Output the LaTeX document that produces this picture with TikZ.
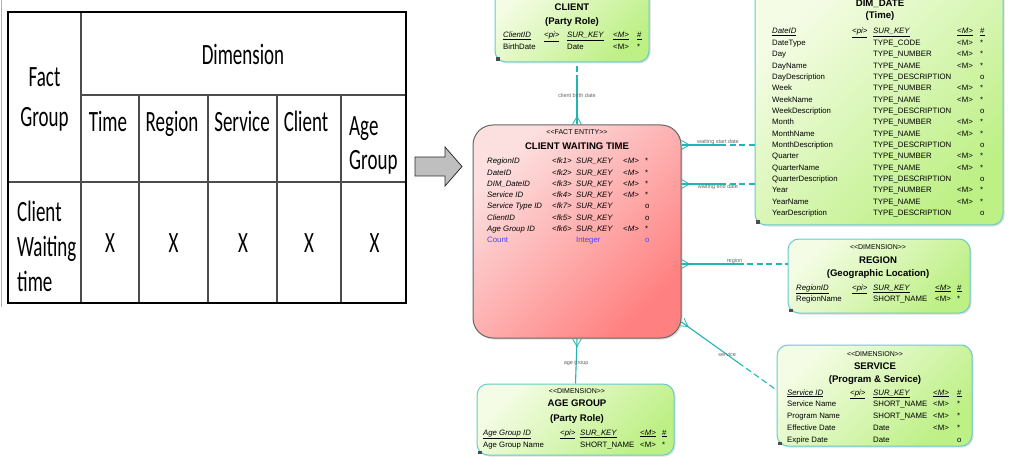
\documentclass[tikz,border=0pt]{standalone}
\usepackage{fontspec}
\usepackage{graphicx}
\setmainfont{Carlito}
\newfontfamily\erdfont{Liberation Sans}
\usetikzlibrary{calc,shadows}
\definecolor{linkc}{rgb}{0.13, 0.71, 0.71}
\definecolor{dimline}{rgb}{0.40, 0.80, 0.80}
\definecolor{dimtop}{rgb}{0.96, 0.99, 0.90}
\definecolor{dimbot}{rgb}{0.74, 0.94, 0.52}
\definecolor{facttop}{rgb}{0.99, 0.88, 0.88}
\definecolor{factbot}{rgb}{1.00, 0.50, 0.50}
\definecolor{cntblue}{rgb}{0.30, 0.25, 1.00}
\newcommand{\tallt}[1]{\scalebox{1}[1.55]{#1}}
\newcommand{\stereo}[2]{<\kern0pt<#1>\kern0pt>}
\newcommand{\erlink}[3]{% from, to, solid part
    \draw[link] (#1) -- ($(#1)!#3!(#2)$);
    \draw[linkdash] ($(#1)!#3!(#2)$) -- (#2);}
\tikzset{
    crow/.pic={\draw[link, line width=0.8pt] (0,-4.5) -- (8,0) -- (0,4.5);}
}

\begin{document}
\begin{tikzpicture}[x=1pt, y=-1pt,
    tabout/.style={draw=black, line width=2.6pt},
    tabin/.style={draw=black!70, line width=1.2pt},
    tabtxt/.style={font=\fontsize{19}{40}\selectfont, inner sep=0pt},
    entity/.style={draw=dimline, line width=1pt, rounded corners=11pt,
        top color=dimtop, bottom color=dimbot, shading angle=45,
        drop shadow={opacity=0.25, shadow xshift=1.5pt, shadow yshift=-1.5pt}},
    factbox/.style={entity, draw=black!60, rounded corners=20pt,
        top color=facttop, bottom color=factbot, shading angle=45},
    ttl/.style={font=\erdfont\bfseries\fontsize{9.6}{11}\selectfont, inner sep=0pt},
    stype/.style={font=\erdfont\fontsize{7}{8}\selectfont, inner sep=0pt},
    attr/.style={font=\erdfont\fontsize{7.8}{9}\selectfont, inner sep=0pt,
        anchor=west, text height=5.6pt, text depth=1.6pt},
    lnk/.style={font=\erdfont\fontsize{5.5}{6}\selectfont, text=black!60, inner sep=0.5pt},
    link/.style={draw=linkc, line width=1.1pt},
    linkdash/.style={link, dash pattern=on 6pt off 3.5pt}]
    \useasboundingbox (0,0) rectangle (1009,457);
    \clip (0,0) rectangle (1009,457);
    \fill[white] (0,0) rectangle (1009,457);

    % fact / dimension table
    \draw[gray!60, line width=0.8pt] (1.5,0) -- (1.5,307);
    \draw[tabin] (81,12) -- (81,303);
    \draw[tabin] (81,95) -- (406,95);
    \draw[tabin] (8,182) -- (406,182);
    \foreach \cx in {139,208,277,341}
        \draw[tabin] (\cx,95) -- (\cx,303);
    \draw[tabout] (8,12) rectangle (406,303);

    \node[tabtxt, align=center] (fg) at (44.5,99) {\tallt{Fact}\\\tallt{Group}};
    \node[tabtxt, anchor=base] (dimh) at (243,64.5) {\tallt{Dimension}};
    \foreach \hx/\hn [count=\k] in {108/Time,172/Region,242/Service,306/Client}
        \node[tabtxt, anchor=base] (hd\k) at (\hx,131.5) {\tallt{\hn}};
    \node[tabtxt, align=left, anchor=west, font=\fontsize{19}{34}\selectfont] (hd5) at (349,145) {\tallt{Age}\\\tallt{Group}};
    \node[tabtxt, align=left, anchor=west, font=\fontsize{19}{35}\selectfont] (cwt) at (17,246) {\tallt{Client}\\\tallt{Waiting}\\\tallt{time}};
    \foreach \xx [count=\k] in {110,173.5,243,309,374.5}
        \node[tabtxt, anchor=base] (x\k) at (\xx,252.5) {\tallt{X}};

    % block arrow
    \draw[fill=gray!50, draw=gray!35!black, line width=0.8pt]
        (415,157) -- (445,157) -- (445,147) -- (462,166.5) -- (445,186) -- (445,176) -- (415,176) -- cycle;

    % entities
    \node[entity, minimum width=154pt, minimum height=82pt] (client) at (572,21) {};
    \node[entity, minimum width=248pt, minimum height=239pt] (dimdate) at (879,105.5) {};
    \node[factbox, minimum width=208pt, minimum height=213pt] (fact) at (577,231.5) {};
    \node[entity, minimum width=182pt, minimum height=74pt] (region) at (879,276) {};
    \node[entity, minimum width=195pt, minimum height=101pt] (service) at (874.5,395.5) {};
    \node[entity, minimum width=197pt, minimum height=71pt] (agegroup) at (575.5,419.5) {};
    \foreach \e in {client,dimdate,region,service,agegroup}
        \fill[black!70] ([xshift=1.5pt, yshift=1.5pt]\e.south west) rectangle ++(3.5,-3.5);

    % CLIENT
    \node[ttl] (clt) at (572,7) {CLIENT};
    \node[ttl] (cls) at (572,22) {(Party Role)};
    \node[attr] (cl1) at (503,36) {\underline{\textit{ClientID}}};
    \node[attr] (cl2) at (544,36) {\underline{\textit{<pi>}}};
    \node[attr] (cl3) at (567,36) {\underline{\textit{SUR\_KEY}}};
    \node[attr] (cl4) at (613,36) {\underline{\textit{<M>}}};
    \node[attr] (cl5) at (637,36) {\underline{\#}};
    \node[attr] (cl6) at (503,48) {BirthDate};
    \node[attr] (cl7) at (567,48) {Date};
    \node[attr] (cl8) at (613,48) {<M>};
    \node[attr] (cl9) at (637,48) {*};

    % DIM_DATE
    \node[ttl] (ddt) at (880,3.5) {DIM\_DATE};
    \node[ttl] (dds) at (880,16) {(Time)};
    \node[attr] (ddn0) at (772,32) {\underline{\textit{DateID}}};
    \node[attr] (ddk0) at (852,32) {\underline{\textit{<pi>}}};
    \node[attr] (ddt0) at (873,32) {\underline{\textit{SUR\_KEY}}};
    \node[attr] (ddm0) at (957,32) {\underline{\textit{<M>}}};
    \node[attr] (ddo0) at (980,32) {\underline{\#}};
    \foreach \an/\at/\am/\ao [count=\k] in {
        DateType/TYPE\_CODE/{<M>}/*, Day/TYPE\_NUMBER/{<M>}/*,
        DayName/TYPE\_NAME/{<M>}/*, DayDescription/TYPE\_DESCRIPTION//o,
        Week/TYPE\_NUMBER/{<M>}/*, WeekName/TYPE\_NAME/{<M>}/*,
        WeekDescription/TYPE\_DESCRIPTION//o, Month/TYPE\_NUMBER/{<M>}/*,
        MonthName/TYPE\_NAME/{<M>}/*, MonthDescription/TYPE\_DESCRIPTION//o,
        Quarter/TYPE\_NUMBER/{<M>}/*, QuarterName/TYPE\_NAME/{<M>}/*,
        QuarterDescription/TYPE\_DESCRIPTION//o, Year/TYPE\_NUMBER/{<M>}/*,
        YearName/TYPE\_NAME/{<M>}/*, YearDescription/TYPE\_DESCRIPTION//o}{
        \pgfmathsetmacro{\ry}{32+11.35*\k}
        \node[attr] (ddn\k) at (772,\ry) {\an};
        \node[attr] (ddt\k) at (873,\ry) {\at};
        \node[attr] (ddm\k) at (957,\ry) {\am};
        \node[attr] (ddo\k) at (980,\ry) {\ao};
    }

    % CLIENT WAITING TIME
    \node[stype] (fst) at (577,132) {\stereo{FACT ENTITY}{}};
    \node[ttl] (ftl) at (577,146) {CLIENT WAITING TIME};
    \foreach \an/\ak/\am/\ao [count=\k] in {
        RegionID/1/{<M>}/*, DateID/2/{<M>}/*, DIM\_DateID/3/{<M>}/*,
        Service ID/4/{<M>}/*, Service Type ID/7//o, ClientID/5//o,
        Age Group ID/6/{<M>}/*}{
        \pgfmathsetmacro{\ry}{162+11.2*(\k-1)}
        \node[attr] (fa\k) at (487,\ry) {\textit{\an}};
        \node[attr] (fk\k) at (552,\ry) {\textit{<fk\ak>}};
        \node[attr] (ft\k) at (576,\ry) {\textit{SUR\_KEY}};
        \node[attr] (fm\k) at (623,\ry) {\textit{\am}};
        \node[attr] (fo\k) at (645,\ry) {\ao};
    }
    \node[attr, text=cntblue] (fa8) at (487,240.4) {Count};
    \node[attr, text=cntblue] (ft8) at (576,240.4) {Integer};
    \node[attr, text=cntblue] (fo8) at (645,240.4) {o};

    % REGION
    \node[stype] (rgs) at (878,247) {\stereo{DIMENSION}{}};
    \node[ttl] (rgt) at (878,260) {REGION};
    \node[ttl] (rgl) at (878,274) {(Geographic Location)};
    \node[attr] (rg1) at (796,288) {\underline{\textit{RegionID}}};
    \node[attr] (rg2) at (852,288) {\underline{\textit{<pi>}}};
    \node[attr] (rg3) at (873,288) {\underline{\textit{SUR\_KEY}}};
    \node[attr] (rg4) at (935,288) {\underline{\textit{<M>}}};
    \node[attr] (rg5) at (957,288) {\underline{\#}};
    \node[attr] (rg6) at (796,299) {RegionName};
    \node[attr] (rg7) at (873,299) {SHORT\_NAME};
    \node[attr] (rg8) at (935,299) {<M>};
    \node[attr] (rg9) at (957,299) {*};

    % SERVICE
    \node[stype] (svs) at (875,354) {\stereo{DIMENSION}{}};
    \node[ttl] (svt) at (875,366) {SERVICE};
    \node[ttl] (svl) at (875,380) {(Program \& Service)};
    \node[attr] (svn0) at (787,393) {\underline{\textit{Service ID}}};
    \node[attr] (svk0) at (850,393) {\underline{\textit{<pi>}}};
    \node[attr] (svt0) at (873,393) {\underline{\textit{SUR\_KEY}}};
    \node[attr] (svm0) at (933,393) {\underline{\textit{<M>}}};
    \node[attr] (svo0) at (957,393) {\underline{\#}};
    \foreach \an/\at/\am/\ao [count=\k] in {
        Service Name/SHORT\_NAME/{<M>}/*, Program Name/SHORT\_NAME/{<M>}/*,
        Effective Date/Date/{<M>}/*, Expire Date/Date//o}{
        \pgfmathsetmacro{\ry}{393+11.75*\k}
        \node[attr] (svn\k) at (787,\ry) {\an};
        \node[attr] (svt\k) at (873,\ry) {\at};
        \node[attr] (svm\k) at (933,\ry) {\am};
        \node[attr] (svo\k) at (957,\ry) {\ao};
    }

    % AGE GROUP
    \node[stype] (ags) at (577,391) {\stereo{DIMENSION}{}};
    \node[ttl] (agt) at (577,403) {AGE GROUP};
    \node[ttl] (agl) at (577,419) {(Party Role)};
    \node[attr] (ag1) at (483,433) {\underline{\textit{Age Group ID}}};
    \node[attr] (ag2) at (560,433) {\underline{\textit{<pi>}}};
    \node[attr] (ag3) at (580,433) {\underline{\textit{SUR\_KEY}}};
    \node[attr] (ag4) at (640,433) {\underline{\textit{<M>}}};
    \node[attr] (ag5) at (662,433) {\underline{\#}};
    \node[attr] (ag6) at (483,445) {Age Group Name};
    \node[attr] (ag7) at (580,445) {SHORT\_NAME};
    \node[attr] (ag8) at (640,445) {<M>};
    \node[attr] (ag9) at (662,445) {*};

    % references
    \coordinate (cb) at (fact.north |- client.south);
    \erlink{fact.north}{cb}{0.7}
    \pic[rotate=90] at (fact.north) {crow};
    \node[lnk] (lcb) at ($(cb)!0.53!(fact.north)$) {client birth date};

    \coordinate (ws) at (fact.east |- 0,145);
    \coordinate (wsd) at (ws -| dimdate.west);
    \erlink{ws}{wsd}{0.53}
    \pic at (ws) {crow};
    \node[lnk, anchor=south] (lws) at ($(ws)!0.5!(wsd)$) {waiting start date};

    \coordinate (we) at (fact.east |- 0,184);
    \coordinate (wed) at (we -| dimdate.west);
    \erlink{we}{wed}{0.53}
    \pic at (we) {crow};
    \node[lnk, anchor=north] (lwe) at ($(we)!0.5!(wed)$) {waiting end date};

    \coordinate (rg) at (fact.east |- 0,264);
    \coordinate (rgd) at (rg -| region.west);
    \erlink{rg}{rgd}{0.53}
    \pic at (rg) {crow};
    \node[lnk, anchor=south] (lrg) at ($(rg)!0.5!(rgd)$) {region};

    \coordinate (sv) at (fact.east |- 0,322);
    \coordinate (svd) at (service.west |- 0,390);
    \erlink{sv}{svd}{0.6}
    \pic[rotate=-35] at (sv) {crow};
    \node[lnk] (lsv) at ($(sv)!0.48!(svd)$) {service};

    \draw[link] (fact.south) -- (agegroup.north);
    \pic[rotate=-90] at (fact.south) {crow};
    \node[lnk] (lag) at ($(fact.south)!0.55!(agegroup.north)$) {age group};
\end{tikzpicture}
\end{document}
